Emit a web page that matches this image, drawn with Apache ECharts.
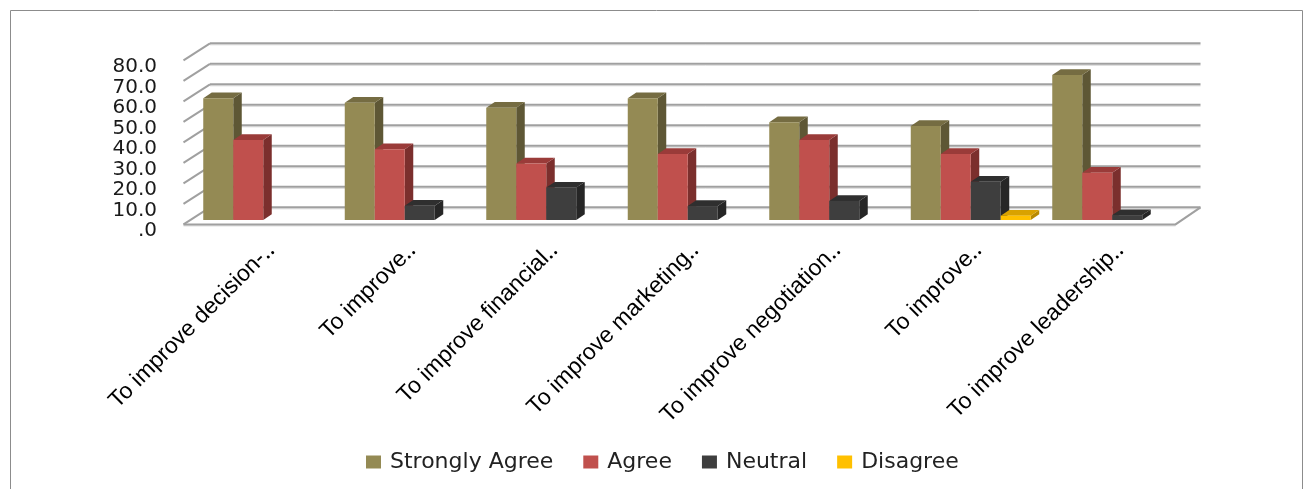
<!DOCTYPE html>
<html>
<head>
<meta charset="utf-8">
<style>
  html, body { margin: 0; padding: 0; background: #fff; }
  #chart { width: 1307px; height: 489px; }
</style>
<script src="https://cdn.jsdelivr.net/npm/echarts@6/dist/echarts.min.js"></script>
</head>
<body>
<div id="chart"></div>
<script>
// Reasons for training: share of responses per statement (%)
const categories = [
  'To improve decision-\u2025',
  'To improve\u2025',
  'To improve financial\u2025',
  'To improve marketing\u2025',
  'To improve negotiation\u2025',
  'To improve\u2025',
  'To improve leadership\u2025'
];
const seriesNames = ['Strongly Agree', 'Agree', 'Neutral', 'Disagree'];
const stronglyAgree = [59.4, 57.2, 54.8, 59.4, 47.7, 45.9, 70.7];
const agree         = [39.0, 34.5, 27.6, 32.2, 39.0, 32.2, 23.1];
const neutral       = [0,     7.0, 15.8,  6.8,  9.3, 18.7,  2.4];
const disagree      = [0,     0,    0,    0,    0,    2.1,  0];
const yTicks = [0, 10, 20, 30, 40, 50, 60, 70, 80];

// face colours: front, side, top
const palette = [
  { front: '#948A54', side: '#5E5735', top: '#756C42' },
  { front: '#C0504D', side: '#7B2F2D', top: '#9A3B39' },
  { front: '#3E3E3E', side: '#262626', top: '#2F2F2F' },
  { front: '#FFC000', side: '#B88A00', top: '#D9A200' }
];

// pseudo-3D geometry (pixels)
const DEPTH_DX = 8.5, DEPTH_DY = -5.7;      // bar depth
const BACK_DX = 10, BACK_DY = -12.7;        // back wall relative to bar plane
const FRONT_DX = -16.5, FRONT_DY = 4.4;     // front floor edge relative to bar plane
const GROUP_START = 0.477;                  // group start from band centre (band fraction)
const BAR_FRAC = 0.212;                     // bar width (band fraction)

function barRenderer(sIdx) {
  return function (params, api) {
    const i = api.value(0), v = api.value(1);
    if (!v) return;
    const base = api.coord([i, 0]);
    const top = api.coord([i, v]);
    const band = api.size([1, 0])[0];
    const w = band * BAR_FRAC;
    const x0 = base[0] - band * GROUP_START + sIdx * w;
    const x1 = x0 + w;
    const yT = top[1], yB = base[1];
    const c = palette[sIdx];
    return {
      type: 'group',
      children: [
        { type: 'polygon', shape: { points: [[x1, yT], [x1 + DEPTH_DX, yT + DEPTH_DY], [x1 + DEPTH_DX, yB + DEPTH_DY], [x1, yB]] },
          style: { fill: c.side } },
        { type: 'polygon', shape: { points: [[x0, yT], [x0 + DEPTH_DX, yT + DEPTH_DY], [x1 + DEPTH_DX, yT + DEPTH_DY], [x1, yT]] },
          style: { fill: c.top } },
        { type: 'rect', shape: { x: x0, y: yT, width: w, height: yB - yT },
          style: { fill: c.front } }
      ]
    };
  };
}

function wallRenderer(params, api) {
  const cs = params.coordSys;
  const v = api.value(1);
  const y = api.coord([0, v])[1];
  const xl = cs.x, xr = cs.x + cs.width;
  const lineStyle = { stroke: '#A0A0A0', lineWidth: 2 };
  const shade = { stroke: '#D8D8D8', lineWidth: 1 };
  const children = [
    { type: 'line', shape: { x1: xl + BACK_DX, y1: y + BACK_DY + 1.5, x2: xr + BACK_DX, y2: y + BACK_DY + 1.5 }, style: shade },
    { type: 'line', shape: { x1: xl + BACK_DX, y1: y + BACK_DY, x2: xr + BACK_DX, y2: y + BACK_DY }, style: lineStyle },
    { type: 'line', shape: { x1: xl + BACK_DX, y1: y + BACK_DY, x2: xl + FRONT_DX, y2: y + FRONT_DY }, style: lineStyle }
  ];
  if (v === 0) {
    children.push(
      { type: 'line', shape: { x1: xl + FRONT_DX, y1: y + FRONT_DY + 1.5, x2: xr + FRONT_DX + 1.5, y2: y + FRONT_DY + 1.5 }, style: shade },
      { type: 'polyline', shape: { points: [[xl + FRONT_DX, y + FRONT_DY], [xr + FRONT_DX + 1.5, y + FRONT_DY], [xr + BACK_DX, y + BACK_DY]] },
        style: { stroke: '#A0A0A0', lineWidth: 2, fill: null } }
    );
  }
  return { type: 'group', children: children };
}

const valueSets = [stronglyAgree, agree, neutral, disagree];
const barSeries = seriesNames.map(function (name, s) {
  return {
    name: name,
    type: 'custom',
    z: 3,
    renderItem: barRenderer(s),
    itemStyle: { color: palette[s].front },
    encode: { x: 0, y: 1 },
    data: valueSets[s].map(function (v, i) { return [i, v]; })
  };
});

const chart = echarts.init(document.getElementById('chart'), null, { renderer: 'canvas' });
chart.setOption({
  animation: false,
  backgroundColor: '#fff',
  graphic: [{
    type: 'rect', left: 8, top: 8, z: -10,
    shape: { width: 1292, height: 500 },
    style: { fill: null, stroke: '#8C8C8C', lineWidth: 1 }
  }],
  grid: [
    // bar plane
    { left: 200, top: 56, width: 990.5, height: 164 },
    // value labels sit on the front plane, a little lower
    { left: 200, top: 67, width: 990.5, height: 164 }
  ],
  legend: {
    data: seriesNames,
    left: 361,
    top: 446,
    icon: 'rect',
    itemWidth: 15,
    itemHeight: 13,
    itemGap: 30,
    textStyle: { fontFamily: 'DejaVu Sans', fontSize: 22, color: '#222', padding: [0, 0, 0, 4] }
  },
  xAxis: [{
    type: 'category',
    gridIndex: 0,
    data: categories,
    axisLine: { show: false },
    axisTick: { show: false },
    splitLine: { show: false },
    axisLabel: {
      interval: 0,
      rotate: 45,
      margin: 27,
      fontFamily: 'Liberation Sans',
      fontSize: 23,
      color: '#000'
    }
  }, {
    type: 'category',
    gridIndex: 1,
    data: categories,
    show: false
  }],
  yAxis: [{
    type: 'value',
    gridIndex: 0,
    min: 0,
    max: 80,
    interval: 10,
    axisLine: { show: false },
    axisTick: { show: false },
    splitLine: { show: false },
    axisLabel: { show: false }
  }, {
    type: 'value',
    gridIndex: 1,
    min: 0,
    max: 80,
    interval: 10,
    axisLine: { show: false },
    axisTick: { show: false },
    splitLine: { show: false },
    axisLabel: {
      margin: 43,
      padding: [12, 0, 0, 0],
      fontFamily: 'DejaVu Sans',
      fontSize: 20,
      color: '#1A1A1A',
      formatter: function (v) { return v.toFixed(1).replace(/^0/, ''); }
    }
  }],
  series: [{
    name: 'walls',
    type: 'custom',
    silent: true,
    z: 1,
    renderItem: wallRenderer,
    encode: { x: 0, y: 1 },
    data: yTicks.map(function (v) { return [0, v]; })
  }].concat(barSeries)
});
</script>
</body>
</html>
